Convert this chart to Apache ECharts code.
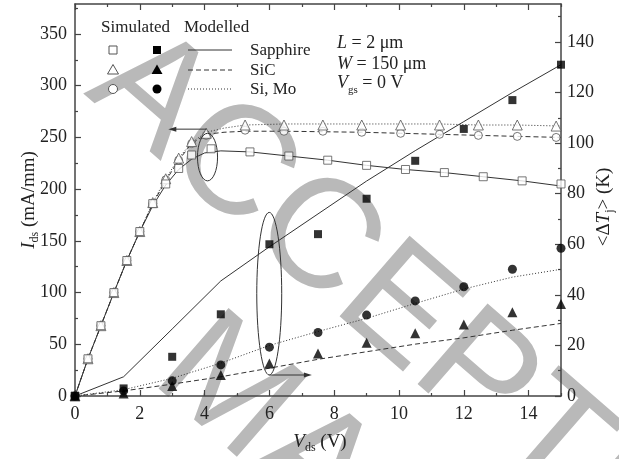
<!DOCTYPE html>
<html>
<head>
<meta charset="utf-8">
<script src="https://cdn.jsdelivr.net/npm/echarts@6/dist/echarts.min.js"></script>
<style>
  html, body { margin: 0; padding: 0; background: #ffffff; }
  #chart { width: 619px; height: 459px; }
</style>
</head>
<body>
<div id="chart"></div>
<script>
// ---- Drain current Ids (mA/mm) versus Vds (V) ----
const vdsSimSapphire = [0, 0.4, 0.8, 1.2, 1.6, 2.0, 2.4, 2.8, 3.2, 3.6, 4.2, 5.4, 6.6, 7.8, 9.0, 10.2, 11.4, 12.6, 13.8, 15.0];
const idsSimSapphire = [0, 36, 68, 100, 131, 159, 186, 205, 220, 233, 239, 236, 232, 228, 223, 219, 216, 212, 208, 205];

const vdsSimOther = [0, 0.4, 0.8, 1.2, 1.6, 2.0, 2.4, 2.8, 3.2, 3.6, 4.05, 5.25, 6.45, 7.65, 8.85, 10.05, 11.25, 12.45, 13.65, 14.85];
const idsSimSiC = [0, 36, 68, 100, 131, 159, 187, 210, 230, 246, 254, 262, 262, 262, 262, 262, 262, 262, 262, 261];
const idsSimSi = [0, 36, 68, 100, 131, 159, 186, 209, 228, 244, 252, 257, 256, 256, 255, 254, 253, 252, 251, 250];

const vdsModSapphire = [0, 0.4, 0.8, 1.2, 1.6, 2.0, 2.4, 2.8, 3.2, 3.6, 4.0, 4.5, 5.4, 6.6, 7.8, 9.0, 10.2, 11.4, 12.6, 13.8, 15.0];
const idsModSapphire = [0, 36, 68, 100, 131, 159, 184, 204, 219, 229, 235, 237, 236, 232, 228, 223, 219, 216, 212, 208, 203];

const vdsModOther = [0, 0.4, 0.8, 1.2, 1.6, 2.0, 2.4, 2.8, 3.2, 3.6, 4.05, 4.6, 5.25, 6.45, 7.65, 8.85, 10.05, 11.25, 12.45, 13.65, 15.0];
const idsModDashed = [0, 36, 68, 100, 131, 159, 186, 208, 228, 244, 253, 255, 256, 256, 255.5, 255, 254, 253, 252, 251, 250];
const idsModDotted = [0, 36, 68, 100, 131, 159, 187, 210, 230, 245, 255, 259, 262, 263, 263, 263, 263, 263, 262, 262, 261];

// ---- Mean temperature rise <ΔT> (K) versus Vds (V) ----
const vdsT = [0, 1.5, 3, 4.5, 6, 7.5, 9, 10.5, 12, 13.5, 15];
const tSimSapphire = [0, 3, 15.5, 32.3, 60, 64, 78, 93, 105.6, 117, 131];
const tSimSiC = [0, 1, 4, 8.3, 12.9, 16.8, 21.1, 24.8, 28.3, 33.1, 36.4];
const tSimSi = [0, 2, 6, 12.3, 19.3, 25.1, 32, 37.6, 43.2, 50.1, 58.4];
const tModSapphire = [0, 7.6, 26.5, 45.5, 59, 72, 85, 97, 108.5, 120, 131];
const tModSiC = [0, 2, 4.7, 7.6, 11, 14.5, 17.5, 20.5, 23, 26, 28.7];
const tModSi = [0, 2.5, 7, 13, 20, 25.5, 30.7, 36.6, 42.3, 47, 50.1];

// ---- Axis ticks ----
const xMajor = [0, 2, 4, 6, 8, 10, 12, 14];
const xMinor = [1, 3, 5, 7, 9, 11, 13, 15];
const idsMajor = [0, 50, 100, 150, 200, 250, 300, 350];
const idsMinor = [25, 75, 125, 175, 225, 275, 325, 375];
const tMajor = [0, 20, 40, 60, 80, 100, 120, 140];
const tMinor = [10, 30, 50, 70, 90, 110, 130, 150];

const SERIF = '"Liberation Serif", "DejaVu Serif", serif';
const SANS = '"Liberation Sans", Arial, sans-serif';
const INK = '#222';
const AXIS = '#444';

const pairs = (xs, ys) => xs.map((x, i) => [x, ys[i]]);

const chart = echarts.init(document.getElementById('chart'), null, { renderer: 'canvas' });

function majorAxis(pos, ticks, opt) {
  return Object.assign({
    type: 'value', position: pos,
    axisLine: { show: true, onZero: false, lineStyle: { color: AXIS, width: 1.5 } },
    axisTick: { show: true, inside: true, length: 6, customValues: ticks, lineStyle: { color: AXIS, width: 1.2 } },
    axisLabel: { show: false },
    splitLine: { show: false }
  }, opt);
}
function minorAxis(pos, ticks, opt) {
  return Object.assign({
    type: 'value', position: pos,
    axisLine: { show: false, onZero: false },
    axisTick: { show: true, inside: true, length: 3, customValues: ticks, lineStyle: { color: AXIS, width: 1.2 } },
    axisLabel: { show: false },
    splitLine: { show: false }
  }, opt);
}
const tickLabel = (values, margin) => ({
  show: true, customValues: values, margin: margin,
  color: INK, fontFamily: SERIF, fontSize: 18
});

const X_MAX = 15, I_MAX = 379, T_MAX = 155;

const lineSeries = (data, yIdx, dash) => ({
  type: 'line', data: data, xAxisIndex: 0, yAxisIndex: yIdx,
  symbol: 'none', smooth: false, z: 2,
  lineStyle: { color: '#333', width: 1, type: dash }
});
const openPts = (data, symbol, size) => ({
  type: 'scatter', data: data, xAxisIndex: 0, yAxisIndex: 0,
  symbol: symbol, symbolSize: size, z: 3,
  itemStyle: { color: '#ffffff', borderColor: '#555', borderWidth: 1 }
});
const filledPts = (data, symbol, size) => ({
  type: 'scatter', data: data, xAxisIndex: 0, yAxisIndex: 1,
  symbol: symbol, symbolSize: size, z: 3,
  itemStyle: { color: '#000000' }
});

chart.setOption({
  animation: false,
  backgroundColor: '#ffffff',
  grid: { left: 75, right: 58, top: 4, bottom: 63, containLabel: false },
  xAxis: [
    majorAxis('bottom', xMajor, { min: 0, max: X_MAX, axisLabel: tickLabel(xMajor, 9) }),
    minorAxis('bottom', xMinor, { min: 0, max: X_MAX }),
    majorAxis('top', xMajor, { min: 0, max: X_MAX }),
    minorAxis('top', xMinor, { min: 0, max: X_MAX })
  ],
  yAxis: [
    majorAxis('left', idsMajor, { min: 0, max: I_MAX, axisLabel: tickLabel(idsMajor, 8) }),
    majorAxis('right', tMajor, { min: 0, max: T_MAX, axisLabel: tickLabel(tMajor, 6) }),
    minorAxis('left', idsMinor, { min: 0, max: I_MAX }),
    minorAxis('right', tMinor, { min: 0, max: T_MAX })
  ],
  series: [
    // modelled curves
    lineSeries(pairs(vdsModSapphire, idsModSapphire), 0, 'solid'),
    lineSeries(pairs(vdsModOther, idsModDashed), 0, [5, 3]),
    lineSeries(pairs(vdsModOther, idsModDotted), 0, [1, 2]),
    lineSeries(pairs(vdsT, tModSapphire), 1, 'solid'),
    lineSeries(pairs(vdsT, tModSiC), 1, [5, 3]),
    lineSeries(pairs(vdsT, tModSi), 1, [1, 2]),
    // simulated points
    openPts(pairs(vdsSimOther, idsSimSi), 'circle', 8),
    openPts(pairs(vdsSimOther, idsSimSiC), 'triangle', 10),
    openPts(pairs(vdsSimSapphire, idsSimSapphire), 'rect', 8),
    filledPts(pairs(vdsT, tSimSi), 'circle', 9),
    filledPts(pairs(vdsT, tSimSiC), 'triangle', 10),
    filledPts(pairs(vdsT, tSimSapphire), 'rect', 8)
  ]
});

// ---- text helpers ----
const measureCtx = document.createElement('canvas').getContext('2d');
function fontOf(size, italic) { return (italic ? 'italic ' : '') + size + 'px ' + SERIF; }
function textWidth(t, size, italic) { measureCtx.font = fontOf(size, italic); return measureCtx.measureText(t).width; }

// A run of text pieces (for italic symbols and subscripts), centred or left-aligned on (x, y)
function textRun(pieces, x, y, rotation, align) {
  const widths = pieces.map(p => textWidth(p.t, p.size, p.italic));
  const total = widths.reduce((a, b) => a + b, 0);
  let cx = align === 'center' ? -total / 2 : 0;
  const children = pieces.map((p, i) => {
    const el = {
      type: 'text', x: cx, y: p.dy || 0,
      style: { text: p.t, font: fontOf(p.size, p.italic), fill: INK,
               textAlign: 'left', textVerticalAlign: 'middle', align: 'left', verticalAlign: 'middle' }
    };
    cx += widths[i];
    return el;
  });
  return { type: 'group', x: x, y: y, rotation: rotation || 0, children: children };
}

function plainText(t, x, y, size) {
  return { type: 'text', x: x, y: y,
    style: { text: t, font: fontOf(size, false), fill: INK,
             textAlign: 'left', textVerticalAlign: 'middle', align: 'left', verticalAlign: 'middle' } };
}

// ---- legend block ----
function legendSymbol(kind, filled, x, y) {
  const st = filled ? { fill: '#000' } : { fill: '#fff', stroke: '#555', lineWidth: 1 };
  if (kind === 'rect') return { type: 'rect', shape: { x: x - 4, y: y - 4, width: 8, height: 8 }, style: st };
  if (kind === 'circle') return { type: 'circle', shape: { cx: x, cy: y, r: 4.5 }, style: st };
  return { type: 'polygon', shape: { points: [[x, y - 5.5], [x + 5.5, y + 4], [x - 5.5, y + 4]] }, style: st };
}
function legendLine(dash, x1, x2, y) {
  return { type: 'line', shape: { x1: x1, y1: y, x2: x2, y2: y },
    style: { stroke: '#333', lineWidth: 1, lineDash: dash } };
}

const legendRows = [
  { kind: 'rect', dash: null, label: 'Sapphire', y: 50 },
  { kind: 'triangle', dash: [5, 3], label: 'SiC', y: 70 },
  { kind: 'circle', dash: [1, 2], label: 'Si, Mo', y: 89 }
];

function buildGraphics() {
  const g = [];
  const pI = (x, y) => chart.convertToPixel({ xAxisIndex: 0, yAxisIndex: 0 }, [x, y]);
  const pT = (x, y) => chart.convertToPixel({ xAxisIndex: 0, yAxisIndex: 1 }, [x, y]);

  // watermark
  const wmAngle = -41 * Math.PI / 180;
  const wm = { font: '155px ' + SANS, fill: '#b9b9b9', textAlign: 'left', textVerticalAlign: 'middle', align: 'left', verticalAlign: 'middle' };
  g.push({ type: 'text', x: 111, y: 61, rotation: wmAngle, z: -10, silent: true, style: Object.assign({ text: 'ACCEPTED' }, wm) });
  g.push({ type: 'text', x: 177, y: 348, rotation: wmAngle, z: -10, silent: true, style: Object.assign({ text: 'MANUSCRIPT' }, wm) });

  // legend
  g.push(plainText('Simulated', 101, 28, 17));
  g.push(plainText('Modelled', 184, 28, 17));
  legendRows.forEach(r => {
    g.push(legendSymbol(r.kind, false, 113, r.y));
    g.push(legendSymbol(r.kind, true, 157, r.y));
    g.push(legendLine(r.dash, 188, 232, r.y));
    g.push(plainText(r.label, 250, r.y + 1, 17));
  });

  // device parameters
  g.push(textRun([{ t: 'L', size: 18, italic: true }, { t: ' = 2 \u03bcm', size: 18 }], 337, 43, 0, 'left'));
  g.push(textRun([{ t: 'W', size: 18, italic: true }, { t: ' = 150 \u03bcm', size: 18 }], 337, 64, 0, 'left'));
  g.push(textRun([{ t: 'V', size: 18, italic: true }, { t: 'gs', size: 11, dy: 7 }, { t: ' = 0 V', size: 18 }], 337, 83, 0, 'left'));

  // axis titles
  g.push(textRun([{ t: 'I', size: 19, italic: true }, { t: 'ds', size: 12, dy: 6 }, { t: ' (mA/mm)', size: 19 }], 29, 200, Math.PI / 2, 'center'));
  g.push(textRun([{ t: '<\u0394', size: 19 }, { t: 'T', size: 19, italic: true }, { t: 'j', size: 12, dy: 6 }, { t: '> (K)', size: 19 }], 604, 207, Math.PI / 2, 'center'));
  g.push(textRun([{ t: 'V', size: 19, italic: true }, { t: 'ds', size: 12, dy: 6 }, { t: ' (V)', size: 19 }], 320, 442, 0, 'center'));

  // annotation: ellipse on current curves with arrow to the left axis
  const e1a = pI(3.78, 254), e1b = pI(4.4, 208);
  g.push({ type: 'ellipse', shape: { cx: (e1a[0] + e1b[0]) / 2, cy: (e1a[1] + e1b[1]) / 2, rx: (e1b[0] - e1a[0]) / 2, ry: (e1b[1] - e1a[1]) / 2 },
    style: { fill: 'none', stroke: '#333', lineWidth: 1 }, z: 4 });
  const a1s = pI(4.06, 258), a1e = pI(2.88, 258);
  g.push({ type: 'line', shape: { x1: a1s[0], y1: a1s[1], x2: a1e[0] + 6, y2: a1e[1] }, style: { stroke: '#333', lineWidth: 1 }, z: 4 });
  g.push({ type: 'polygon', shape: { points: [[a1e[0], a1e[1]], [a1e[0] + 8, a1e[1] - 2.5], [a1e[0] + 8, a1e[1] + 2.5]] }, style: { fill: '#333' }, z: 4 });

  // annotation: ellipse on temperature points with arrow to the right axis
  const e2a = pT(5.61, 72.6), e2b = pT(6.38, 8.3);
  g.push({ type: 'ellipse', shape: { cx: (e2a[0] + e2b[0]) / 2, cy: (e2a[1] + e2b[1]) / 2, rx: (e2b[0] - e2a[0]) / 2, ry: (e2b[1] - e2a[1]) / 2 },
    style: { fill: 'none', stroke: '#333', lineWidth: 1 }, z: 4 });
  const a2s = pT(6.0, 8.3), a2e = pT(7.31, 8.3);
  g.push({ type: 'line', shape: { x1: a2s[0], y1: a2s[1], x2: a2e[0] - 6, y2: a2e[1] }, style: { stroke: '#333', lineWidth: 1 }, z: 4 });
  g.push({ type: 'polygon', shape: { points: [[a2e[0], a2e[1]], [a2e[0] - 8, a2e[1] - 2.5], [a2e[0] - 8, a2e[1] + 2.5]] }, style: { fill: '#333' }, z: 4 });

  return g;
}

chart.setOption({ graphic: buildGraphics() });
</script>
</body>
</html>
